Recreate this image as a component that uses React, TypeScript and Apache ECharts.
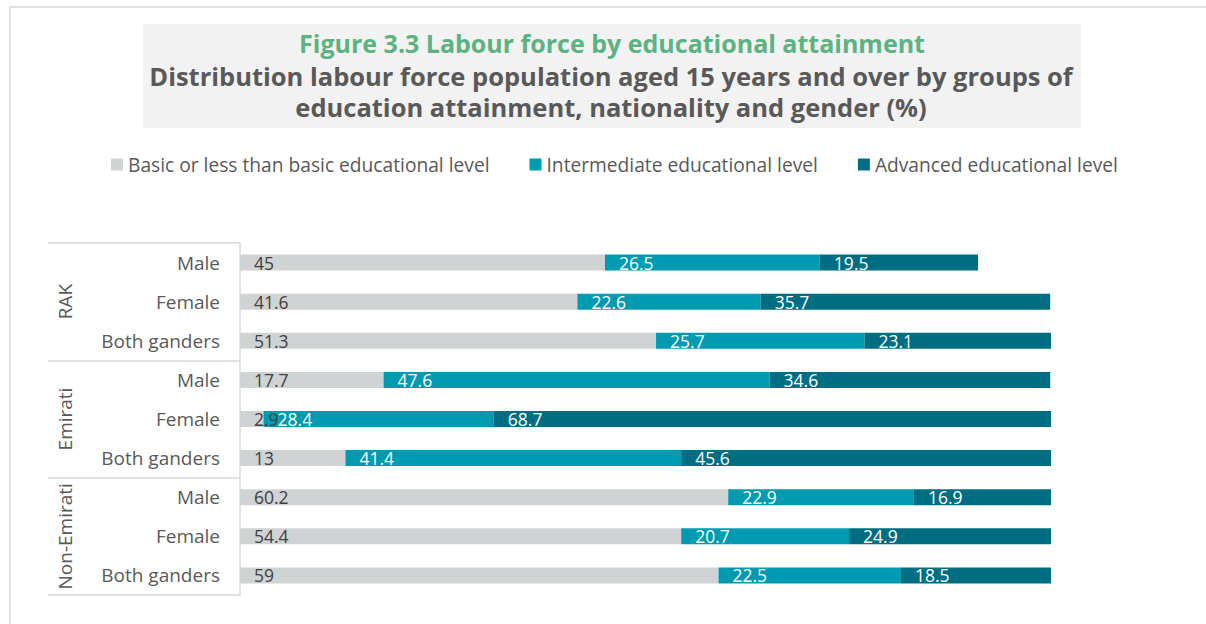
import React, { useEffect, useRef } from "react";
import * as echarts from "echarts";

const groups = ["RAK", "Emirati", "Non-Emirati"];
const genders = ["Male", "Female", "Both ganders"];
const seriesNames = [
  "Basic or less than basic educational level",
  "Intermediate educational level",
  "Advanced educational level",
];
const basic = [45, 41.6, 51.3, 17.7, 2.9, 13, 60.2, 54.4, 59];
const intermediate = [26.5, 22.6, 25.7, 47.6, 28.4, 41.4, 22.9, 20.7, 22.5];
const advanced = [19.5, 35.7, 23.1, 34.6, 68.7, 45.6, 16.9, 24.9, 18.5];
const colors = ["#d0d3d4", "#009bb1", "#006e82"];
const labelColors = ["#404040", "#ffffff", "#ffffff"];
const titleText = "Figure 3.3 Labour force by educational attainment";
const subtitleText =
  "Distribution labour force population aged 15 years and over by groups of\neducation attainment, nationality and gender (%)";

const FONT = "'Open Sans', sans-serif";

export default function App() {
  const ref = useRef<HTMLDivElement>(null);
  useEffect(() => {
    if (!ref.current) return;
    const chart = echarts.init(ref.current, null, { renderer: "svg" });
    const categories: string[] = [];
    groups.forEach((g) => genders.forEach((s) => categories.push(g + "|" + s)));
    const values = [basic, intermediate, advanced];
    chart.setOption({
      animation: false,
      backgroundColor: "#ffffff",
      textStyle: { fontFamily: FONT },
      graphic: [
        {
          type: "rect",
          shape: { x: 10, y: 7, width: 1220, height: 700 },
          style: { fill: "none", stroke: "#d9d9d9", lineWidth: 1.5 },
          z: -10,
        },
        {
          type: "rect",
          shape: { x: 143, y: 24, width: 938, height: 104 },
          style: { fill: "#f2f2f2" },
          z: -5,
        },
      ],
      title: [
        {
          text: titleText,
          left: 607,
          top: 25,
          textAlign: "center",
          textStyle: { fontFamily: FONT, fontSize: 25, fontWeight: "bold", color: "#5bb381" },
        },
        {
          text: subtitleText,
          left: 606,
          top: 55,
          textAlign: "center",
          textStyle: {
            fontFamily: FONT,
            fontSize: 25.5,
            fontWeight: "bold",
            color: "#595959",
            lineHeight: 31,
          },
        },
      ],
      legend: {
        left: 106,
        top: 150,
        itemWidth: 12,
        itemHeight: 12,
        itemGap: 40,
        icon: "rect",
        textStyle: { fontFamily: FONT, fontSize: 19.2, color: "#595959" },
        data: seriesNames,
      },
      grid: { left: 240, top: 243, width: 811, height: 352 },
      xAxis: { type: "value", min: 0, max: 100, show: false },
      yAxis: [
        {
          type: "category",
          inverse: true,
          position: "left",
          data: categories,
          axisLine: { show: true, lineStyle: { color: "#d9d9d9", width: 1.5 } },
          axisTick: { show: false },
          axisLabel: {
            interval: 0,
            margin: 20,
            fontFamily: FONT,
            fontSize: 19,
            color: "#595959",
            formatter: (v: string) => v.split("|")[1],
          },
        },
        {
          type: "category",
          inverse: true,
          position: "left",
          data: groups,
          axisLine: { show: false },
          axisTick: {
            show: true,
            interval: 0,
            length: 192,
            lineStyle: { color: "#d9d9d9", width: 1.5 },
          },
          axisLabel: {
            interval: 0,
            rotate: 90,
            margin: 166,
            fontFamily: FONT,
            fontSize: 19,
            color: "#595959",
          },
        },
      ],
      series: seriesNames.map((name, i) => ({
        name,
        type: "bar",
        stack: "total",
        barWidth: 16,
        data: values[i],
        itemStyle: { color: colors[i] },
        label: {
          show: true,
          position: "insideLeft",
          distance: 14,
          fontFamily: FONT,
          fontSize: 17.5,
          color: labelColors[i],
        },
      })),
    });
    return () => chart.dispose();
  }, []);
  return (
    <div
      ref={ref}
      style={{ position: "fixed", left: 0, top: 0, width: 1206, height: 624 }}
    />
  );
}
